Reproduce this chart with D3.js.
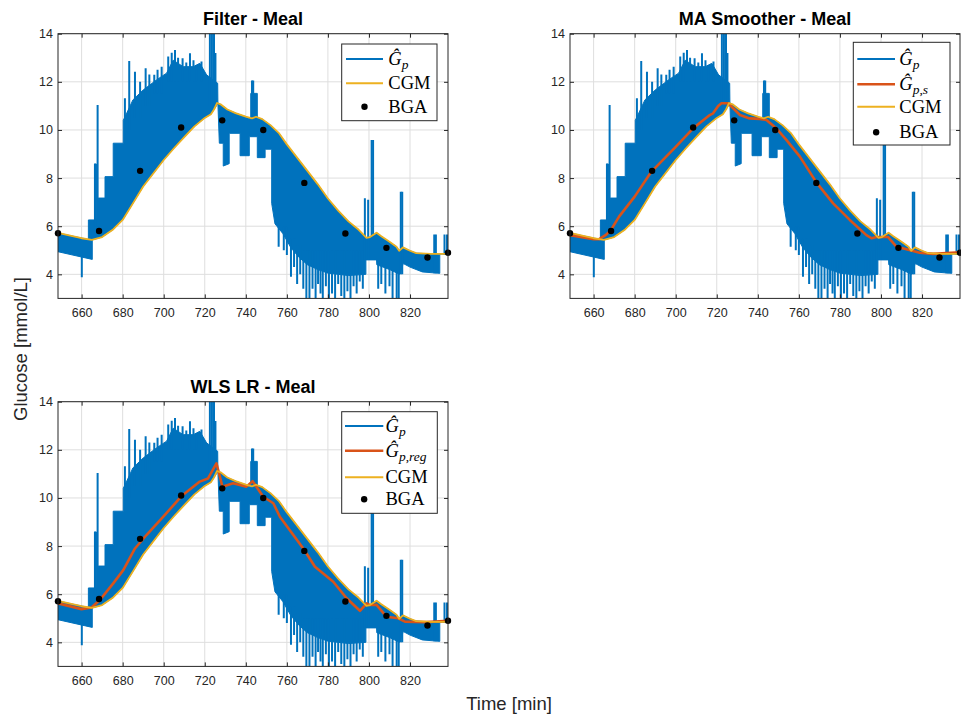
<!DOCTYPE html>
<html lang="en">
<head>
<meta charset="UTF-8">
<title>Glucose estimates - Meal</title>
<script src="https://d3js.org/d3.v7.min.js"></script>
<style>
  body { margin: 0; background: #fff; }
  .tick text { font-family: Arial, "Liberation Sans", sans-serif; font-size: 12.5px; fill: #262626; }
  .tick line { stroke: #262626; }
  .title { font: bold 18px Arial, "Liberation Sans", sans-serif; fill: #000; }
  .label { font: 18.5px Arial, "Liberation Sans", sans-serif; fill: #262626; }
  .legend text { font-family: "Liberation Serif", "Times New Roman", serif; font-size: 18.5px; fill: #000; }
</style>
</head>
<body>
<svg width="961" height="715"></svg>
<script>
  // ticks
  const xTicks = [660, 680, 700, 720, 740, 760, 780, 800, 820];
  const yTicks = [4, 6, 8, 10, 12, 14];

  // CGM
  const cgmTime  = [648.5, 655, 660, 665, 670, 675, 680, 685, 690, 695, 700, 705, 710, 715, 720, 723, 724.5, 726, 728, 731, 735, 740, 743, 745, 748, 752, 756, 760, 765, 770, 775, 780, 785, 790, 795, 798.8, 800.5, 803.7, 806, 810, 813.4, 814.7, 816.6, 820, 823, 830, 838.5];
  const cgmValue = [5.72, 5.6, 5.5, 5.43, 5.55, 5.84, 6.26, 6.95, 7.65, 8.2, 8.75, 9.24, 9.7, 10.15, 10.5, 10.65, 10.85, 11.12, 11.05, 10.85, 10.7, 10.55, 10.48, 10.55, 10.45, 10.2, 9.88, 9.4, 8.85, 8.3, 7.75, 7.15, 6.65, 6.2, 5.85, 5.52, 5.55, 5.73, 5.58, 5.35, 5.15, 4.98, 5.12, 4.98, 4.88, 4.85, 4.85];

  // BGA samples
  const bgaTime  = [648.5, 668.5, 688.5, 708.5, 728.5, 748.5, 768.5, 788.5, 808.5, 828.5, 838.5];
  const bgaValue = [5.71, 5.8, 8.3, 10.1, 10.4, 10.0, 7.8, 5.7, 5.1, 4.7, 4.9];

  // MA smoother output
  const smoothTime  = [648.5, 660, 662.7, 666, 668.4, 672.4, 680, 688.2, 700, 708.5, 716.6, 718.2, 720.7, 722.3, 725.5, 728, 731.3, 736, 741, 744.2, 749, 754, 760.5, 768.6, 776.7, 784.8, 792.9, 795.4, 797.8, 803.5, 807.5, 812.4, 818.9, 825.4, 838.5];
  const smoothValue = [5.63, 5.46, 5.46, 5.64, 5.84, 6.4, 7.23, 8.27, 9.3, 10.07, 10.62, 10.69, 11.0, 11.11, 11.11, 10.9, 10.62, 10.48, 10.46, 10.41, 10.07, 9.58, 8.89, 7.81, 6.95, 6.26, 5.63, 5.5, 5.55, 5.55, 5.15, 5.04, 4.9, 4.85, 4.92];

  // WLS regression output
  const regTime  = [648.5, 659.9, 664.8, 668.9, 675.4, 680.3, 686, 691.6, 699.8, 708.7, 717.6, 721.6, 725.7, 728.6, 733.8, 740.3, 743.3, 748.5, 753.4, 756.6, 768, 773.7, 782.6, 789.1, 795.6, 798.9, 800.5, 803.7, 808.6, 814.2, 817.5, 828, 838.5];
  const regValue = [5.62, 5.38, 5.45, 5.76, 6.45, 7.0, 7.9, 8.46, 9.22, 10.08, 10.68, 10.81, 11.44, 10.47, 10.61, 10.47, 10.7, 10.05, 9.78, 9.22, 7.9, 7.14, 6.52, 5.83, 5.31, 5.62, 5.55, 5.56, 5.06, 5.0, 4.86, 4.84, 4.9];

  // Gp estimate: upper and lower envelope of the dense trace [t, value]
  const gpUpper = [[648.5,5.72],[656,5.58],[663.3,5.45],[663.3,6.26],[668.1,6.26],[668.1,7.17],[671.4,7.17],[671.4,8.06],[675.4,8.06],[675.4,9.45],[680.3,9.45],[680.3,10.4],[682,10.7],[685,11.25],[690,11.66],[696.5,12.08],[701.4,12.36],[704.6,12.9],[709.5,12.63],[714.4,12.63],[717.6,12.77],[720.9,12.29],[726.3,11.94],[726.4,11.12],[728,11.05],[731,10.85],[735,10.7],[740,10.55],[742.4,10.45],[742.4,11.52],[745.6,11.52],[745.6,10.5],[748,10.45],[752,10.2],[756,9.88],[760,9.4],[765,8.85],[770,8.3],[775,7.75],[780,7.15],[785,6.65],[790,6.2],[795,5.85],[798.8,5.52],[800.5,5.55],[803.7,5.73],[806,5.58],[810,5.35],[813.4,5.15],[814.7,4.98],[816.6,5.12],[820,4.98],[823,4.88],[830,4.85],[838.5,4.85]];
  const gpLower = [[648.5,4.94],[665.2,4.62],[665.2,5.43],[670,5.55],[675,5.84],[680,6.26],[685,6.95],[690,7.65],[695,8.2],[700,8.75],[705,9.24],[710,9.7],[715,10.15],[720,10.5],[723,10.65],[724.5,10.85],[726.4,11.1],[727.1,9.45],[729,9.45],[729,8.5],[731.9,8.6],[731.9,9.86],[737.2,9.86],[737.2,8.93],[741.7,8.93],[741.7,9.72],[745.6,9.72],[745.6,8.85],[749.4,8.85],[749.4,9.2],[752.6,9.2],[752.6,6.95],[754.2,6.1],[758,5.7],[762,5.1],[766,4.7],[770,4.4],[775,4.2],[780,4.05],[790,3.95],[798.5,4.0],[798.5,4.6],[803.7,4.6],[803.8,4.4],[810,4.2],[815,4.0],[816.7,4.45],[820,4.3],[826,4.1],[834.5,4.04],[834.5,4.85],[838.5,4.85]];
  // single spikes of the trace [t, low, high]
  const gpSpikes = [[660.1,3.88,4.8],[666.5,6.0,8.61],[667.0,6.0,8.6],[667.8,6.0,11.04],[668.4,6.0,7.1],
    [681.1,9.5,11.32],[683.2,10,12.87],[686,10.5,12.42],[688.5,10.5,12.0],[691.2,11,12.56],[693,11,12.3],
    [695.4,11.5,12.29],[697,11.5,12.5],[699,11.5,12.63],[702.2,12,13.05],[703.9,12,13.21],[705.5,12,13.32],
    [707,12,13.0],[709.2,12,12.98],[711,12,12.8],[712.8,12,13.19],[714.5,12,12.9],[716,12,12.7],[718.4,12,12.84],
    [722.5,11,14.2],[723.5,11,14.2],[724.5,11,14.2],[725.2,11,13.2],[743,10.5,12.05],[743.6,10.5,12.05],
    [756,5.15,6],[758.5,5.0,6],[760,4.8,6],[762,3.9,5.5],[763.5,4.3,5.5],[765,3.6,5.2],[766.5,4.0,5.2],[768,3.4,5.0],
    [769.5,3.0,5],[771,3.0,5],[772.5,3.4,5],[774,3.0,5],[775.2,3.6,5],[776.4,3.2,5],[777.5,3.0,5],[779,3.5,5],
    [780.5,3.0,5],[782,3.2,5],[783.5,3.0,5],[785,3.6,5],[786.5,3.1,5],[788,3.0,5],[789.5,3.3,5],[791,3.0,5],
    [792.5,3.5,5],[794,3.2,5],[795.5,3.7,5],[797,3.4,5],[798,4.6,7.16],[799.6,4.6,7.1],[801.3,4.6,9.58],
    [802,4.6,9.58],[804.5,3.4,4.6],[806,3.6,4.5],[808,3.2,4.4],[810,3.5,4.3],[811.5,3.0,4.2],[813.5,3.0,4.1],
    [814.5,3.0,4.1],[815.5,4.0,7.43],[816.2,4.0,7.43],[831.8,4.04,5.66],[832.6,4.04,5.66],[836.8,4.8,5.66],[838,4.8,5.66]];

  const blue = "#0072BD", orange = "#D95319", yellow = "#EDB120", axisColor = "#262626";

  const svg = d3.select("svg");
  const W = 390, H = 264.7;

  const zip = (a, b) => a.map((t, i) => [t, b[i]]);

  const panels = [
    { id: "p1", title: "Filter - Meal", left: 58, top: 33.7, extra: null,
      legend: { x: 341.7, y: 44, w: 95.3, h: 76.7, lineX: [346, 383], textX: 388.3, rows: [59, 83.3, 106.7] } },
    { id: "p2", title: "MA Smoother - Meal", left: 570, top: 33.7,
      extra: { data: zip(smoothTime, smoothValue), sub: ["p", ",", "s"] },
      legend: { x: 853.3, y: 42.3, w: 96.7, h: 102.7, lineX: [857.3, 895], textX: 899.3, rows: [59, 84.3, 106.7, 132.3] } },
    { id: "p3", title: "WLS LR - Meal", left: 58, top: 401.7,
      extra: { data: zip(regTime, regValue), sub: ["p", ",", "reg"] },
      legend: { x: 341.7, y: 411.7, w: 95.6, h: 101.6, lineX: [345, 383.3], textX: 385.5, rows: [426, 450.7, 477.3, 499.3] } }
  ];

  function hatLabel(text, subParts) {
    text.append("tspan").attr("font-style", "italic").text("\u011C");
    subParts.forEach((s, i) => {
      const ts = text.append("tspan").attr("font-size", "13.5px").text(s);
      if (i === 0) ts.attr("dy", 4);
      if (s !== ",") ts.attr("font-style", "italic");
    });
  }

  panels.forEach(p => {
    const x = d3.scaleLinear().domain([648.5, 838.5]).range([0, W]);
    const y = d3.scaleLinear().domain([3, 14]).range([H, 0]);
    const g = svg.append("g").attr("transform", `translate(${p.left},${p.top})`);

    g.append("clipPath").attr("id", "clip-" + p.id)
      .append("rect").attr("width", W).attr("height", H);

    // grid
    g.append("g").selectAll("line").data(xTicks).join("line")
      .attr("x1", d => x(d)).attr("x2", d => x(d)).attr("y1", 0).attr("y2", H)
      .attr("stroke", "#dedede").attr("stroke-width", 1);
    g.append("g").selectAll("line").data(yTicks).join("line")
      .attr("y1", d => y(d)).attr("y2", d => y(d)).attr("x1", 0).attr("x2", W)
      .attr("stroke", "#dedede").attr("stroke-width", 1);

    const plot = g.append("g").attr("clip-path", `url(#clip-${p.id})`);
    const line = d3.line().x(d => x(d[0])).y(d => y(d[1]));

    // Gp dense trace as band + spikes
    plot.append("path")
      .attr("d", line(gpUpper.concat(gpLower.slice().reverse())) + "Z")
      .attr("fill", blue).attr("stroke", blue).attr("stroke-width", 1);
    plot.append("g").selectAll("line").data(gpSpikes).join("line")
      .attr("x1", d => x(d[0])).attr("x2", d => x(d[0]))
      .attr("y1", d => y(d[1])).attr("y2", d => y(d[2]))
      .attr("stroke", blue).attr("stroke-width", 2);

    if (p.extra) {
      plot.append("path").attr("d", line(p.extra.data))
        .attr("fill", "none").attr("stroke", orange).attr("stroke-width", 2.6)
        .attr("stroke-linejoin", "round");
    }
    plot.append("path").attr("d", line(zip(cgmTime, cgmValue)))
      .attr("fill", "none").attr("stroke", yellow).attr("stroke-width", 1.8)
      .attr("stroke-linejoin", "round");

    g.append("g").selectAll("circle").data(zip(bgaTime, bgaValue)).join("circle")
      .attr("cx", d => x(d[0])).attr("cy", d => y(d[1])).attr("r", 3.2).attr("fill", "#000");

    // axes
    const xa = g.append("g").attr("transform", `translate(0,${H})`)
      .call(d3.axisBottom(x).tickValues(xTicks).tickSize(-4).tickPadding(10).tickFormat(d3.format("d")));
    const ya = g.append("g")
      .call(d3.axisLeft(y).tickValues(yTicks).tickSize(-4).tickPadding(5).tickFormat(d3.format("d")));
    const xt = g.append("g").call(d3.axisTop(x).tickValues(xTicks).tickSize(-4).tickFormat(""));
    const yr = g.append("g").attr("transform", `translate(${W},0)`)
      .call(d3.axisRight(y).tickValues(yTicks).tickSize(-4).tickFormat(""));
    [xa, ya, xt, yr].forEach(a => a.select(".domain").remove());
    g.append("rect").attr("width", W).attr("height", H)
      .attr("fill", "none").attr("stroke", axisColor).attr("stroke-width", 1);

    g.append("text").attr("class", "title").attr("x", W / 2).attr("y", -8.5)
      .attr("text-anchor", "middle").text(p.title);

    // legend
    const L = p.legend;
    const lg = svg.append("g").attr("class", "legend");
    lg.append("rect").attr("x", L.x).attr("y", L.y).attr("width", L.w).attr("height", L.h)
      .attr("fill", "#fff").attr("stroke", axisColor).attr("stroke-width", 1);
    const entries = [{ kind: "line", color: blue, w: 2, label: t => hatLabel(t, ["p"]) }];
    if (p.extra) entries.push({ kind: "line", color: orange, w: 2.6, label: t => hatLabel(t, p.extra.sub) });
    entries.push({ kind: "line", color: yellow, w: 2, label: t => t.text("CGM") });
    entries.push({ kind: "dot", label: t => t.text("BGA") });
    entries.forEach((e, i) => {
      const ry = L.rows[i];
      if (e.kind === "line") {
        lg.append("line").attr("x1", L.lineX[0]).attr("x2", L.lineX[1]).attr("y1", ry).attr("y2", ry)
          .attr("stroke", e.color).attr("stroke-width", e.w);
      } else {
        lg.append("circle").attr("cx", (L.lineX[0] + L.lineX[1]) / 2).attr("cy", ry).attr("r", 3.2).attr("fill", "#000");
      }
      e.label(lg.append("text").attr("x", L.textX).attr("y", ry + 6));
    });
  });

  svg.append("text").attr("class", "label").attr("text-anchor", "middle")
    .attr("dominant-baseline", "central")
    .attr("transform", "translate(20,349) rotate(-90)").text("Glucose [mmol/L]");
  svg.append("text").attr("class", "label").attr("text-anchor", "middle")
    .attr("dominant-baseline", "central")
    .attr("x", 509).attr("y", 703).text("Time [min]");
</script>
</body>
</html>
